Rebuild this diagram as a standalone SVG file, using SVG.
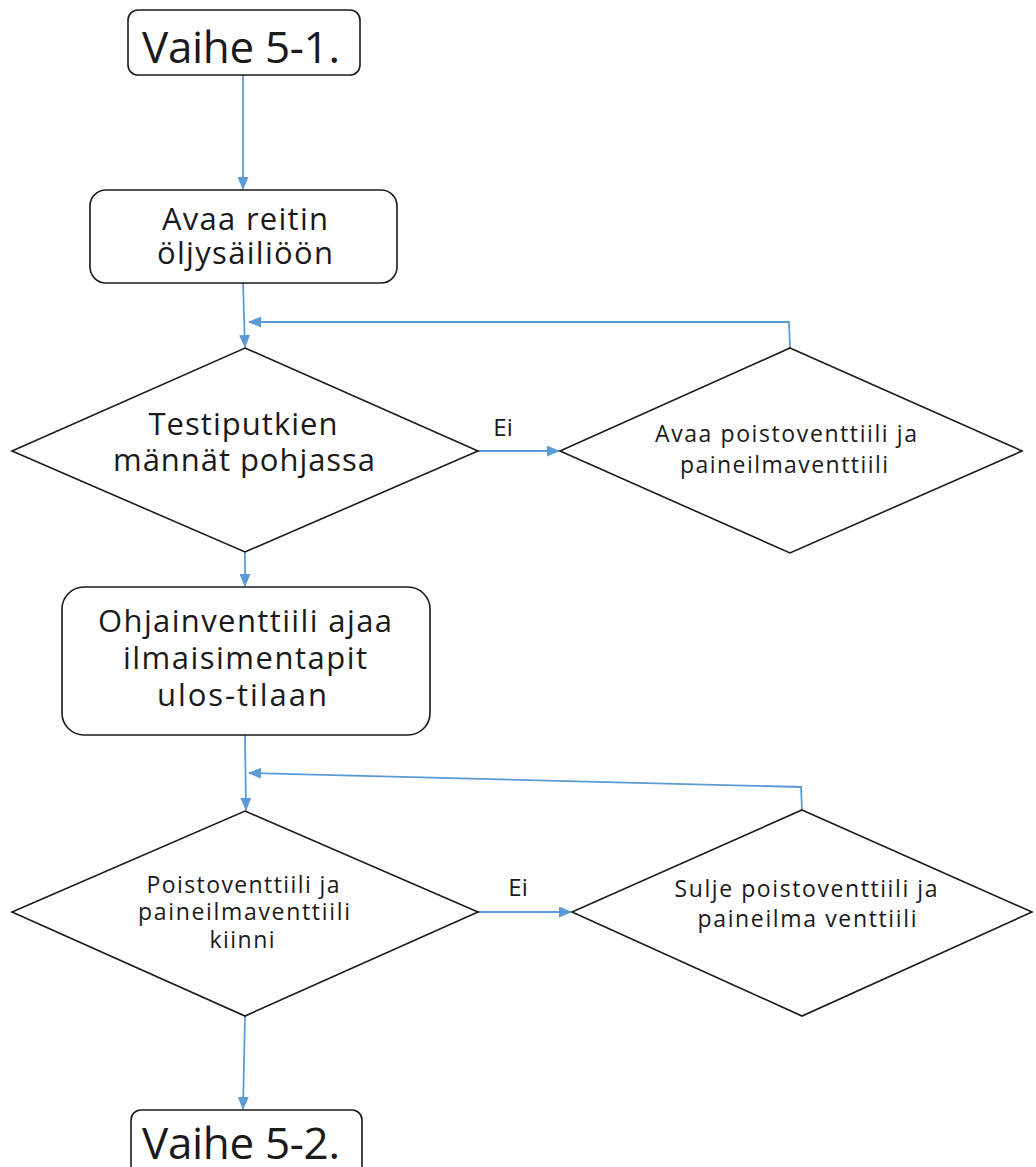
<svg xmlns="http://www.w3.org/2000/svg" width="1036" height="1167" viewBox="0 0 1036 1167">
  <style>
    .shape { fill: #ffffff; stroke: #1a1a1a; stroke-width: 1.6; }
    .conn { fill: none; stroke: #5b9bd5; stroke-width: 1.8; }
    .lbl { font-family: "Open Sans", "Liberation Sans", sans-serif; fill: #1a1a1a; text-anchor: middle; }
    .big { font-size: 44px; }
    .mid { font-size: 31px; }
    .small { font-size: 23px; }
    .ei { font-size: 24px; }
  </style>
  <defs>
    <marker id="arrow" viewBox="0 0 13 11" refX="12" refY="5.5" markerWidth="13" markerHeight="11" markerUnits="userSpaceOnUse" orient="auto">
      <path d="M0,0 L13,5.5 L0,11 z" fill="#5b9bd5"/>
    </marker>
  </defs>
  <rect width="1036" height="1167" fill="#ffffff"/>

  <g id="connectors">
    <path class="conn" d="M243,75 L243,189" marker-end="url(#arrow)"/>
    <path class="conn" d="M243,283 L245,347" marker-end="url(#arrow)"/>
    <path class="conn" d="M790,348 L789,322 L249,322" marker-end="url(#arrow)"/>
    <path class="conn" d="M478,451 L559,451" marker-end="url(#arrow)"/>
    <path class="conn" d="M245,552 L245,586" marker-end="url(#arrow)"/>
    <path class="conn" d="M245,735 L246,810" marker-end="url(#arrow)"/>
    <path class="conn" d="M802,810 L801,787 L249,773" marker-end="url(#arrow)"/>
    <path class="conn" d="M478,912 L571,912" marker-end="url(#arrow)"/>
    <path class="conn" d="M245,1016 L243,1109" marker-end="url(#arrow)"/>
    <text class="lbl ei" x="503" y="436">Ei</text>
    <text class="lbl ei" x="518" y="896">Ei</text>
  </g>

  <g id="start">
    <rect class="shape" x="128" y="10" width="232" height="65" rx="10"/>
    <text class="lbl big" x="241" y="63" textLength="198" lengthAdjust="spacing">Vaihe 5-1.</text>
  </g>

  <g id="open-route">
    <rect class="shape" x="90" y="190" width="307" height="93" rx="16"/>
    <text class="lbl mid" x="245" y="230" textLength="166" lengthAdjust="spacing">Avaa reitin</text>
    <text class="lbl mid" x="245" y="264" textLength="176" lengthAdjust="spacing">öljysäiliöön</text>
  </g>

  <g id="pistons-down">
    <polygon class="shape" points="245,348 478,451 245,552 12,451"/>
    <text class="lbl mid" x="243" y="435" textLength="189" lengthAdjust="spacing">Testiputkien</text>
    <text class="lbl mid" x="244" y="471" textLength="262" lengthAdjust="spacing">männät pohjassa</text>
  </g>

  <g id="open-valves">
    <polygon class="shape" points="790,348 1022,451 790,553 560,451"/>
    <text class="lbl small" x="786" y="442" textLength="262" lengthAdjust="spacing">Avaa poistoventtiili ja</text>
    <text class="lbl small" x="784" y="473" textLength="208" lengthAdjust="spacing">paineilmaventtiili</text>
  </g>

  <g id="pilot-valve">
    <rect class="shape" x="62" y="587" width="368" height="148" rx="22"/>
    <text class="lbl mid" x="245" y="632" textLength="294" lengthAdjust="spacing">Ohjainventtiili ajaa</text>
    <text class="lbl mid" x="245" y="669" textLength="244" lengthAdjust="spacing">ilmaisimentapit</text>
    <text class="lbl mid" x="242" y="706" textLength="170" lengthAdjust="spacing">ulos-tilaan</text>
  </g>

  <g id="valves-closed">
    <polygon class="shape" points="245,811 478,912 245,1016 12,912"/>
    <text class="lbl small" x="243" y="893" textLength="193" lengthAdjust="spacing">Poistoventtiili ja</text>
    <text class="lbl small" x="244" y="920" textLength="212" lengthAdjust="spacing">paineilmaventtiili</text>
    <text class="lbl small" x="242" y="948" textLength="65" lengthAdjust="spacing">kiinni</text>
  </g>

  <g id="close-valves">
    <polygon class="shape" points="802,810 1032,912 802,1016 572,912"/>
    <text class="lbl small" x="806" y="897" textLength="263" lengthAdjust="spacing">Sulje poistoventtiili ja</text>
    <text class="lbl small" x="807" y="927" textLength="219" lengthAdjust="spacing">paineilma venttiili</text>
  </g>

  <g id="end">
    <rect class="shape" x="131" y="1110" width="231" height="70" rx="10"/>
    <text class="lbl big" x="241" y="1159" textLength="198" lengthAdjust="spacing">Vaihe 5-2.</text>
  </g>
</svg>
